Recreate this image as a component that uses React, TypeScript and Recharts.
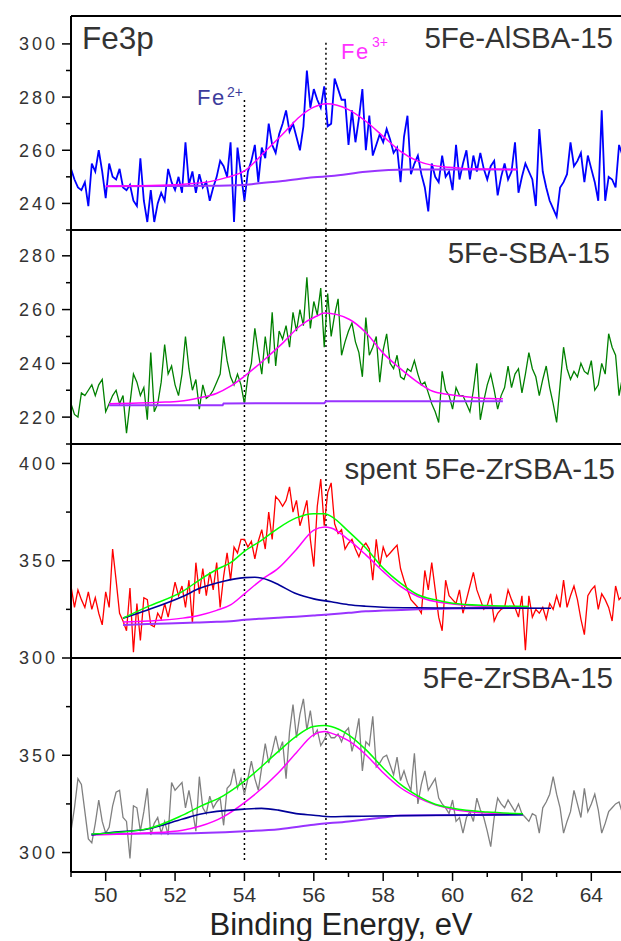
import React from "react";
import { LineChart, Line, XAxis, YAxis, ReferenceLine } from "recharts";

const FONT = '"Liberation Sans", Arial, Helvetica, sans-serif';

// spectra: one value every 0.1 eV from 49.0 eV to 65.0 eV
const E_START = 49.0;
const E_STEP = 0.1;

const AL_SBA15 = [
  253, 249, 246, 245, 248, 239, 255, 252, 260, 252,
  242, 255, 250, 249, 253, 246, 245, 247, 241, 239,
  257, 241, 233, 245, 233, 240, 244, 241, 253, 248,
  245, 250, 244, 263, 247, 252, 244, 251, 246, 248,
  241, 246, 250, 256, 254, 250, 263, 233, 261, 251,
  241, 252, 256, 262, 248, 261, 257, 270, 262, 259,
  266, 270, 275, 267, 270, 265, 260, 269, 290, 276,
  283, 279, 276, 284, 269, 270, 287, 283, 279, 279,
  262, 275, 263, 272, 283, 260, 273, 258, 262, 266,
  263, 268, 264, 259, 261, 248, 265, 273, 251, 255,
  258, 251, 246, 237, 255, 250, 248, 258, 250, 252,
  245, 262, 249, 255, 260, 249, 258, 252, 259, 253,
  249, 254, 256, 243, 250, 255, 249, 252, 263, 244,
  250, 255, 252, 249, 239, 268, 252, 246, 241, 238,
  235, 246, 248, 251, 263, 254, 256, 259, 248, 258,
  253, 248, 241, 275, 241, 250, 249, 246, 262, 258,
  255,
];

const SBA15 = [
  225, 221, 220, 229, 228, 230, 232, 228, 232, 234,
  222, 225, 228, 230, 225, 228, 214, 225, 236, 233,
  228, 231, 219, 244, 222, 225, 233, 247, 236, 239,
  232, 228, 236, 250, 238, 230, 234, 223, 232, 227,
  228, 230, 233, 236, 250, 241, 235, 232, 236, 232,
  225, 235, 240, 253, 244, 236, 250, 240, 259, 239,
  252, 249, 254, 246, 259, 252, 260, 254, 272, 253,
  263, 258, 268, 246, 266, 250, 258, 264, 243, 248,
  252, 255, 248, 244, 235, 257, 243, 246, 250, 233,
  245, 251, 240, 238, 243, 235, 234, 238, 237, 241,
  236, 232, 233, 229, 225, 222, 218, 237, 230, 228,
  223, 231, 228, 228, 225, 222, 230, 240, 219, 226,
  232, 236, 230, 223, 228, 231, 239, 231, 236, 238,
  229, 236, 244, 238, 235, 228, 234, 239, 231, 225,
  218, 232, 246, 238, 234, 237, 235, 240, 237, 236,
  241, 230, 232, 240, 236, 251, 246, 243, 228, 235,
  232,
];

const SPENT_ZRSBA15 = [
  337, 326, 335, 330, 326, 334, 325, 331, 323, 317,
  334, 326, 356, 340, 323, 319, 314, 336, 303, 328,
  309, 331, 330, 317, 316, 323, 320, 328, 321, 330,
  339, 332, 337, 326, 340, 318, 349, 333, 346, 332,
  344, 335, 349, 326, 342, 354, 340, 357, 354, 361,
  361, 357, 360, 351, 360, 366, 356, 375, 361, 383,
  381, 378, 381, 388, 375, 381, 368, 374, 381, 361,
  347, 378, 392, 368, 385, 390, 369, 364, 366, 356,
  359, 361, 356, 352, 357, 359, 356, 340, 361, 347,
  357, 352, 354, 356, 358, 346, 340, 335, 330, 328,
  326, 323, 345, 335, 349, 335, 321, 314, 340, 332,
  330, 328, 335, 323, 330, 337, 344, 335, 330, 325,
  327, 333, 319, 323, 325, 326, 335, 330, 326, 321,
  332, 304, 332, 321, 325, 323, 326, 320, 328, 325,
  332, 326, 340, 326, 332, 337, 330, 320, 312, 332,
  335, 337, 325, 333, 330, 326, 319, 337, 330, 332,
  335,
];

const ZRSBA15 = [
  311, 323, 338, 335, 321, 307, 305, 315, 327, 316,
  310, 313, 324, 331, 332, 318, 316, 297, 324, 323,
  311, 321, 333, 309, 315, 318, 310, 316, 309, 336,
  332, 334, 336, 323, 332, 322, 311, 339, 323, 320,
  329, 323, 326, 328, 314, 333, 335, 343, 333, 338,
  330, 338, 347, 338, 332, 344, 356, 346, 352, 360,
  352, 357, 338, 362, 376, 359, 371, 379, 363, 373,
  360, 363, 355, 358, 362, 359, 359, 361, 357, 362,
  364, 352, 359, 369, 342, 357, 355, 370, 344, 346,
  349, 350, 345, 340, 349, 337, 342, 336, 332, 351,
  325, 335, 342, 332, 335, 338, 328, 325, 323, 320,
  327, 316, 318, 310, 318, 321, 316, 328, 322, 318,
  311, 303, 318, 328, 325, 323, 327, 324, 321, 325,
  320, 318, 316, 320, 319, 310, 323, 326, 330, 339,
  330, 323, 310, 316, 321, 332, 325, 318, 333, 321,
  325, 330, 322, 310, 315, 321, 323, 325, 326, 320,
  325,
];

// fitted components (energy, counts)
const AL_FIT_E = [50.0, 51.0, 52.0, 52.5, 53.0, 53.5, 54.0, 54.6, 55.1, 55.6, 56.0, 56.36, 57.0, 57.5, 58.0, 58.5, 59.0, 59.4, 59.9, 60.5, 61.87];
const AL_FE3 = [246.5, 246.6, 247.0, 247.5, 248.2, 249.8, 252.2, 259.6, 266.0, 272.7, 276.2, 277.5, 275.3, 270.9, 265.2, 259.6, 255.9, 254.4, 253.6, 253.0, 252.75];
const AL_BASE_E = [50.0, 53.0, 54.0, 54.5, 55.1, 56.0, 56.5, 57.5, 58.7, 61.87];
const AL_BASE = [246.5, 246.6, 246.9, 247.7, 248.4, 249.8, 250.3, 251.9, 252.75, 252.75];

const SBA_FIT_E = [50.1, 51.56, 52.13, 52.71, 53.19, 53.6, 54.0, 54.63, 55.11, 55.59, 56.07, 56.31, 57.03, 57.51, 57.99, 58.47, 58.95, 59.43, 59.9, 60.4, 61.07, 61.45];
const SBA_FE3 = [225.0, 225.5, 225.9, 227.2, 228.8, 231.5, 235.2, 242.0, 247.6, 253.8, 257.5, 258.7, 256.3, 251.3, 243.9, 238.3, 233.4, 229.6, 228.4, 227.6, 226.9, 226.8];
const SBA_BASE_E = [50.1, 53.37, 53.4, 56.3, 56.35, 61.45];
const SBA_BASE = [224.4, 224.4, 225.1, 225.2, 225.9, 225.9];

const SPENT_FIT_E = [50.5, 51.21, 52.22, 52.71, 53.2, 53.6, 54.0, 54.49, 54.98, 55.49, 55.99, 56.31, 56.5, 57.0, 57.5, 58.0, 58.5, 59.0, 59.5, 60.0, 61.0, 62.2];
const SPENT_BASE = [317.0, 317.5, 318.0, 318.3, 318.6, 318.9, 319.6, 320.2, 320.7, 321.2, 321.8, 322.2, 322.5, 323.2, 324.0, 324.4, 324.7, 325.0, 325.2, 325.4, 325.6, 325.8];
const SPENT_FE3 = [318.5, 319.0, 320.5, 322.0, 324.5, 327.3, 333.0, 340.2, 346.2, 355.7, 365.6, 367.4, 366.8, 360.8, 353.0, 344.5, 336.8, 331.6, 329.0, 327.8, 326.5, 326.0];
const SPENT_SUM = [320.5, 326.4, 334.2, 340.2, 345.5, 349.0, 354.8, 360.5, 366.8, 372.0, 374.2, 374.2, 372.8, 365.1, 356.5, 346.2, 338.5, 332.5, 329.9, 328.2, 327.0, 326.5];
const SPENT_FE2_E = [50.5, 51.21, 52.22, 52.71, 53.4, 54.0, 54.3, 54.7, 55.0, 55.5, 56.0, 56.5, 57.0, 57.5, 58.0, 59.0, 60.0, 62.84];
const SPENT_FE2 = [320.5, 324.7, 331.6, 335.8, 339.5, 341.3, 341.5, 340.0, 337.5, 333.0, 330.4, 328.9, 327.4, 326.6, 326.1, 325.8, 325.7, 325.6];

const ZR_BASE_E = [49.59, 51.21, 52.22, 54.0, 55.0, 56.0, 57.0, 58.0, 58.5, 62.03];
const ZR_BASE = [309.5, 309.8, 309.8, 310.9, 312.0, 314.3, 316.0, 318.0, 319.0, 319.5];
const ZR_FE2_E = [49.59, 50.21, 51.21, 52.22, 52.71, 54.0, 54.49, 54.98, 55.49, 55.99, 56.49, 57.0, 62.03];
const ZR_FE2 = [309.0, 310.4, 312.1, 317.2, 319.7, 322.3, 322.7, 321.8, 320.0, 319.2, 318.4, 318.6, 319.5];
const ZR_FIT_E = [49.59, 51.21, 52.22, 52.71, 53.4, 54.0, 54.98, 55.49, 55.99, 56.31, 56.5, 57.0, 57.5, 58.0, 58.5, 59.0, 59.5, 60.0, 61.0, 62.03];
const ZR_FE3 = [309.0, 310.0, 311.5, 313.5, 318.5, 325.7, 341.0, 351.2, 360.5, 362.2, 361.4, 357.5, 350.3, 341.0, 333.3, 328.2, 324.5, 322.3, 320.3, 319.8];
const ZR_SUM = [309.5, 312.3, 319.2, 323.6, 329.3, 336.7, 352.0, 359.7, 364.8, 365.3, 364.8, 360.5, 352.9, 343.5, 335.0, 329.1, 324.8, 322.8, 320.8, 320.0];

const X_TICKS = [49, 50, 51, 52, 53, 54, 55, 56, 57, 58, 59, 60, 61, 62, 63, 64];
const FE2_POS = 54.0;
const FE3_POS = 56.35;

const MAGENTA = "#ff00ff";
const VIOLET = "#9933ff";
const NAVY = "#000099";
const LIME = "#00ff00";

type Pt = { x: number; y: number };
const spectrum = (vals: number[]): Pt[] =>
  vals.map((y, i) => ({ x: Math.round((E_START + i * E_STEP) * 10) / 10, y }));
const zip = (xs: number[], ys: number[]): Pt[] => xs.map((x, i) => ({ x, y: ys[i] }));

type Curve = { data: Pt[]; color: string; width: number; smooth?: boolean };

const makeYTick = (major: number[]) => (props: any) => {
  const { x, y, payload } = props;
  const isMajor = major.includes(payload.value);
  return (
    <g>
      <line x1={x} x2={x - (isMajor ? 9 : 5)} y1={y} y2={y} stroke="#000" strokeWidth={1.5} />
      {isMajor && (
        <text x={x - 13} y={y} dy="0.36em" textAnchor="end" fontSize={18} letterSpacing={3} fill="#333" fontFamily={FONT}>
          {payload.value}
        </text>
      )}
    </g>
  );
};

const XTick = (props: any) => {
  const { x, y, payload } = props;
  const v = payload.value;
  const major = v % 2 === 0;
  return (
    <g>
      <line x1={x} x2={x} y1={y} y2={y + (major ? 9 : 5)} stroke="#000" strokeWidth={1.5} />
      {major && (
        <text x={x} y={y + 30} textAnchor="middle" fontSize={21} fill="#333" fontFamily={FONT}>
          {v}
        </text>
      )}
    </g>
  );
};

type PanelProps = {
  top: number;
  domain: [number, number];
  ticks: number[];
  major: number[];
  curves: Curve[];
  last?: boolean;
  first?: boolean;
  fe2From?: number;
  fe3From?: number;
  dotTo?: number;
};

function Panel({ top, domain, ticks, major, curves, last, first, fe2From, fe3From, dotTo }: PanelProps) {
  const h = last ? 264 : 234;
  const dotted = { stroke: "#000", strokeWidth: 1.5, strokeDasharray: "2 3" };
  const y1 = fe2From ?? domain[1];
  const y3 = fe3From ?? domain[1];
  const yEnd = dotTo ?? domain[0];
  return (
    <div style={{ position: "absolute", left: 0, top }}>
      <LineChart width={630} height={h} margin={{ top: 10, right: 4, bottom: last ? 0 : 10, left: 0 }}>
        <XAxis
          type="number"
          dataKey="x"
          domain={[49, 65]}
          allowDataOverflow
          hide={!last}
          ticks={X_TICKS}
          interval={0}
          height={40}
          tickSize={0}
          tickMargin={0}
          tickLine={false}
          axisLine={{ stroke: "#000", strokeWidth: 2 }}
          tick={XTick}
        />
        <YAxis
          type="number"
          domain={domain}
          allowDataOverflow
          ticks={ticks}
          interval={0}
          width={71}
          tickSize={0}
          tickMargin={0}
          tickLine={false}
          axisLine={{ stroke: "#000", strokeWidth: 2 }}
          tick={makeYTick(major)}
        />
        <ReferenceLine
          segment={[{ x: FE2_POS, y: y1 }, { x: FE2_POS, y: yEnd }]}
          {...dotted}
          ifOverflow="visible"
        />
        <ReferenceLine
          segment={[{ x: FE3_POS, y: y3 }, { x: FE3_POS, y: yEnd }]}
          {...dotted}
          ifOverflow="visible"
        />
        {curves.map((c, i) => (
          <Line
            key={i}
            data={c.data}
            dataKey="y"
            type={c.smooth ? "monotone" : "linear"}
            stroke={c.color}
            strokeWidth={c.width}
            dot={false}
            activeDot={false}
            isAnimationActive={false}
          />
        ))}
        {first && <ReferenceLine y={domain[1]} stroke="#000" strokeWidth={2} ifOverflow="visible" />}
        {!last && <ReferenceLine y={domain[0]} stroke="#000" strokeWidth={2} ifOverflow="visible" />}
      </LineChart>
    </div>
  );
}

export default function App() {
  const textStyle = { fontFamily: FONT };
  return (
    <div style={{ position: "absolute", left: 0, top: 0, width: 621, height: 941, overflow: "hidden", background: "#fff" }}>
      <Panel
        top={6}
        first
        domain={[230, 310.5]}
        ticks={[230, 240, 250, 260, 270, 280, 290, 300]}
        major={[240, 260, 280, 300]}
        fe2From={278.9}
        fe3From={300.4}
        curves={[
          { data: spectrum(AL_SBA15), color: "#0000ff", width: 1.8 },
          { data: zip(AL_BASE_E, AL_BASE), color: VIOLET, width: 2, smooth: true },
          { data: zip(AL_FIT_E, AL_FE3), color: MAGENTA, width: 1.5, smooth: true },
        ]}
      />
      <Panel
        top={220}
        domain={[210, 289.6]}
        ticks={[210, 220, 230, 240, 250, 260, 270, 280]}
        major={[220, 240, 260, 280]}
        curves={[
          { data: spectrum(SBA15), color: "#008000", width: 1.3 },
          { data: zip(SBA_BASE_E, SBA_BASE), color: VIOLET, width: 2 },
          { data: zip(SBA_FIT_E, SBA_FE3), color: MAGENTA, width: 1.5, smooth: true },
        ]}
      />
      <Panel
        top={434}
        domain={[300, 410]}
        ticks={[300, 325, 350, 375, 400]}
        major={[300, 350, 400]}
        curves={[
          { data: spectrum(SPENT_ZRSBA15), color: "#ff0000", width: 1.3 },
          { data: zip(SPENT_FIT_E, SPENT_BASE), color: VIOLET, width: 2, smooth: true },
          { data: zip(SPENT_FIT_E, SPENT_FE3), color: MAGENTA, width: 1.5, smooth: true },
          { data: zip(SPENT_FE2_E, SPENT_FE2), color: NAVY, width: 1.6, smooth: true },
          { data: zip(SPENT_FIT_E, SPENT_SUM), color: LIME, width: 1.5, smooth: true },
        ]}
      />
      <Panel
        top={648}
        last
        domain={[290, 400]}
        ticks={[300, 325, 350, 375]}
        major={[300, 350]}
        dotTo={295.7}
        curves={[
          { data: spectrum(ZRSBA15), color: "#808080", width: 1.3 },
          { data: zip(ZR_BASE_E, ZR_BASE), color: VIOLET, width: 2, smooth: true },
          { data: zip(ZR_FIT_E, ZR_FE3), color: MAGENTA, width: 1.5, smooth: true },
          { data: zip(ZR_FE2_E, ZR_FE2), color: NAVY, width: 1.6, smooth: true },
          { data: zip(ZR_FIT_E, ZR_SUM), color: LIME, width: 1.5, smooth: true },
        ]}
      />
      <svg width={621} height={941} style={{ position: "absolute", left: 0, top: 0, pointerEvents: "none" }}>
        <g style={textStyle} fill="#333">
          <text x={82} y={49} fontSize={31.5}>Fe3p</text>
          <text x={613} y={48} fontSize={29.5} textAnchor="end">5Fe-AlSBA-15</text>
          <text x={610} y={263} fontSize={29.5} textAnchor="end">5Fe-SBA-15</text>
          <text x={615} y={479} fontSize={29.5} textAnchor="end">spent 5Fe-ZrSBA-15</text>
          <text x={613} y={688} fontSize={29.5} textAnchor="end">5Fe-ZrSBA-15</text>
          <text x={341} y={935} fontSize={31} textAnchor="middle" fill="#222">Binding Energy, eV</text>
        </g>
        <g style={textStyle}>
          <text x={197} y={105} fontSize={22} letterSpacing={1.5} fill="#3c3c9c">Fe</text>
          <text x={227} y={96.5} fontSize={14} fill="#3c3c9c">2+</text>
          <text x={341} y={59} fontSize={22} letterSpacing={1.5} fill="#ff33ff">Fe</text>
          <text x={372} y={46.5} fontSize={14} fill="#ff33ff">3+</text>
        </g>
      </svg>
    </div>
  );
}
